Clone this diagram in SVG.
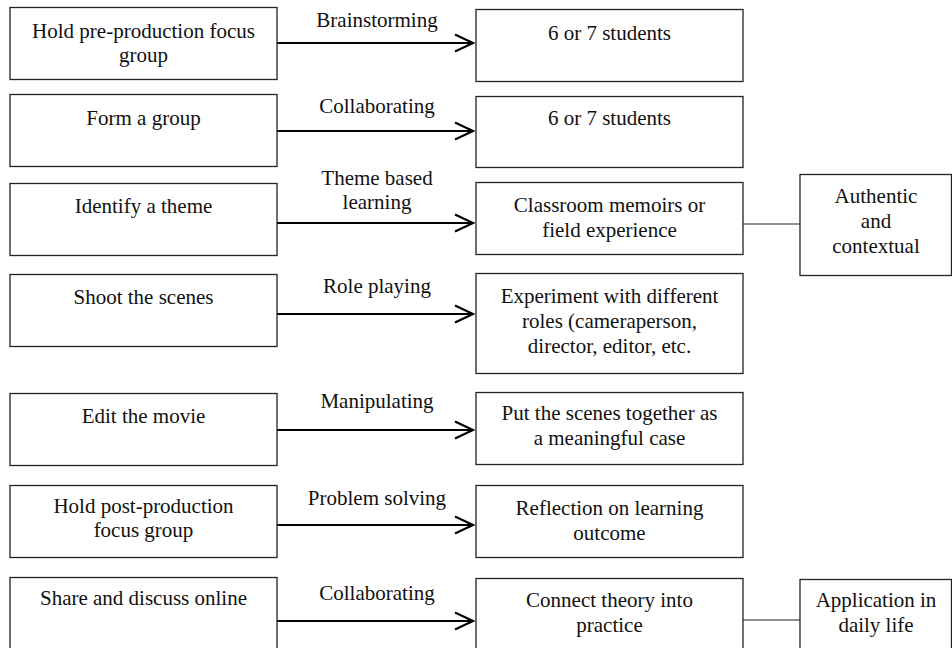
<svg xmlns="http://www.w3.org/2000/svg" width="952" height="648" viewBox="0 0 952 648">
<style>
.box{fill:#fff;stroke:#222;stroke-width:1.3}
text{font-family:"Liberation Serif","Times New Roman",serif;font-size:21px;fill:#111;text-anchor:middle}
.arr{stroke:#000;stroke-width:2.2;fill:none}
.ln{stroke:#222;stroke-width:1.2;fill:none}
</style>
<defs>
<marker id="chev" markerUnits="userSpaceOnUse" markerWidth="24" markerHeight="24" refX="19" refY="10" orient="auto" viewBox="0 0 24 20">
<path d="M1,1.5 L19,10 L1,18.5" fill="none" stroke="#000" stroke-width="2.2"/>
</marker>
</defs>
<rect width="952" height="648" fill="#fff"/>
<g id="connectors">
<line class="arr" x1="277" y1="43" x2="473" y2="43" marker-end="url(#chev)"/>
<line class="arr" x1="277" y1="131" x2="473" y2="131" marker-end="url(#chev)"/>
<line class="arr" x1="277" y1="223" x2="473" y2="223" marker-end="url(#chev)"/>
<line class="arr" x1="277" y1="314" x2="473" y2="314" marker-end="url(#chev)"/>
<line class="arr" x1="277" y1="430" x2="473" y2="430" marker-end="url(#chev)"/>
<line class="arr" x1="277" y1="525" x2="473" y2="525" marker-end="url(#chev)"/>
<line class="arr" x1="277" y1="621" x2="473" y2="621" marker-end="url(#chev)"/>
<line class="ln" x1="743" y1="224" x2="800" y2="224"/>
<line class="ln" x1="743" y1="620" x2="800" y2="620"/>
<text x="377" y="27">Brainstorming</text>
<text x="377" y="113">Collaborating</text>
<text x="377" y="185">Theme based</text>
<text x="377" y="209">learning</text>
<text x="377" y="293">Role playing</text>
<text x="377" y="408">Manipulating</text>
<text x="377" y="505">Problem solving</text>
<text x="377" y="600">Collaborating</text>
</g>
<g id="n1"><rect class="box" x="10" y="7.5" width="267" height="72"/><text x="143.5" y="38">Hold pre-production focus</text><text x="143.5" y="62">group</text></g>
<g id="n2"><rect class="box" x="10" y="94.5" width="267" height="72"/><text x="143.5" y="125">Form a  group</text></g>
<g id="n3"><rect class="box" x="10" y="183.5" width="267" height="72"/><text x="143.5" y="213">Identify a theme</text></g>
<g id="n4"><rect class="box" x="10" y="274.5" width="267" height="72"/><text x="143.5" y="304">Shoot the scenes</text></g>
<g id="n5"><rect class="box" x="10" y="393.5" width="267" height="72"/><text x="143.5" y="423">Edit the movie</text></g>
<g id="n6"><rect class="box" x="10" y="485.5" width="267" height="72"/><text x="143.5" y="513">Hold post-production</text><text x="143.5" y="537">focus  group</text></g>
<g id="n7"><rect class="box" x="10" y="577.5" width="267" height="72"/><text x="143.5" y="605">Share and discuss online</text></g>
<g id="r1"><rect class="box" x="476" y="9.5" width="267" height="72"/><text x="609.5" y="40">6 or 7 students</text></g>
<g id="r2"><rect class="box" x="476" y="96.5" width="267" height="71"/><text x="609.5" y="125">6 or 7 students</text></g>
<g id="r3"><rect class="box" x="476" y="182.5" width="267" height="72"/><text x="609.5" y="212">Classroom memoirs or</text><text x="609.5" y="237">field experience</text></g>
<g id="r4"><rect class="box" x="476" y="273.5" width="267" height="100"/><text x="609.5" y="303">Experiment with different</text><text x="609.5" y="328">roles (cameraperson,</text><text x="609.5" y="353">director, editor, etc.</text></g>
<g id="r5"><rect class="box" x="476" y="392.5" width="267" height="72"/><text x="609.5" y="420">Put the scenes together as</text><text x="609.5" y="445">a meaningful case</text></g>
<g id="r6"><rect class="box" x="476" y="485.5" width="267" height="72"/><text x="609.5" y="515">Reflection on learning</text><text x="609.5" y="540">outcome</text></g>
<g id="r7"><rect class="box" x="476" y="578.5" width="267" height="72"/><text x="609.5" y="607">Connect theory into</text><text x="609.5" y="632">practice</text></g>
<g id="a1"><rect class="box" x="800" y="174.5" width="151.5" height="101"/><text x="876" y="203">Authentic</text><text x="876" y="228">and</text><text x="876" y="253">contextual</text></g>
<g id="a2"><rect class="box" x="800" y="579.5" width="151.5" height="72"/><text x="876" y="607">Application in</text><text x="876" y="632">daily life</text></g>
</svg>
